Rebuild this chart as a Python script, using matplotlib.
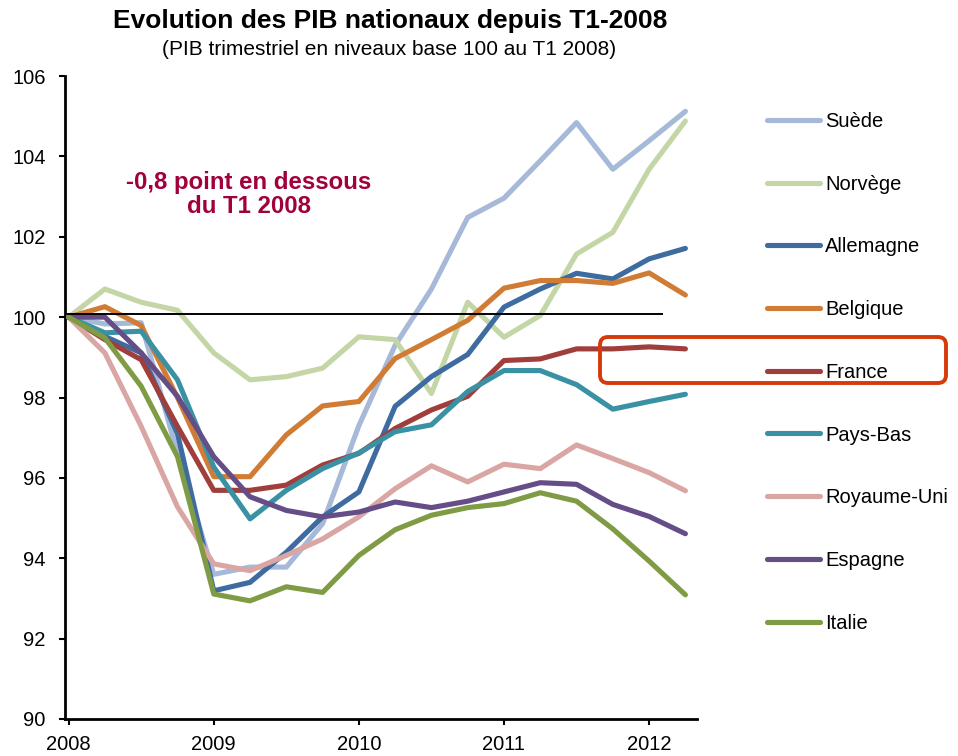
import matplotlib
matplotlib.use("Agg")
import matplotlib.pyplot as plt
from matplotlib.lines import Line2D
from matplotlib.patches import FancyBboxPatch
from matplotlib.transforms import IdentityTransform
import numpy as np

plt.rcParams['font.family'] = ['Liberation Sans', 'DejaVu Sans']

# Quarters T1-2008 .. T2-2012
quarters = [2008 + q / 4 for q in range(18)]

suede = [100, 99.83, 99.86, 96.6, 93.6, 93.78, 93.78, 94.86, 97.3, 99.3, 100.70, 102.48, 102.96, 103.89, 104.84, 103.68, 104.39, 105.12]
norvege = [100, 100.70, 100.37, 100.17, 99.11, 98.44, 98.52, 98.73, 99.51, 99.44, 98.10, 100.37, 99.50, 100.04, 101.57, 102.11, 103.68, 104.88]
allemagne = [100, 99.52, 99.11, 97.1, 93.19, 93.40, 94.15, 95.03, 95.65, 97.78, 98.52, 99.07, 100.25, 100.70, 101.09, 100.95, 101.45, 101.71]
belgique = [100, 100.26, 99.79, 98.0, 96.03, 96.03, 97.07, 97.79, 97.90, 98.97, 99.44, 99.92, 100.72, 100.91, 100.91, 100.84, 101.10, 100.55]
france = [100, 99.44, 98.94, 97.28, 95.69, 95.69, 95.82, 96.32, 96.61, 97.23, 97.69, 98.03, 98.92, 98.96, 99.21, 99.21, 99.26, 99.21]
pays_bas = [100, 99.61, 99.65, 98.44, 96.27, 94.98, 95.69, 96.23, 96.62, 97.15, 97.32, 98.15, 98.67, 98.67, 98.32, 97.71, 97.90, 98.08]
royaume_uni = [100, 99.11, 97.28, 95.28, 93.86, 93.69, 94.07, 94.48, 95.03, 95.73, 96.30, 95.90, 96.34, 96.23, 96.82, 96.48, 96.13, 95.68]
espagne = [100, 100.0, 99.11, 98.03, 96.53, 95.53, 95.19, 95.03, 95.15, 95.40, 95.26, 95.42, 95.65, 95.88, 95.84, 95.34, 95.04, 94.61]
italie = [100, 99.48, 98.28, 96.53, 93.11, 92.94, 93.29, 93.15, 94.07, 94.71, 95.07, 95.26, 95.36, 95.63, 95.42, 94.73, 93.93, 93.09]

series_names = ["Suède", "Norvège", "Allemagne", "Belgique", "France",
                "Pays-Bas", "Royaume-Uni", "Espagne", "Italie"]
series_values = [suede, norvege, allemagne, belgique, france,
                 pays_bas, royaume_uni, espagne, italie]
series_colors = ["#a6b9d8", "#c4d6a6", "#3e6ba0", "#d17c35", "#a03e3c",
                 "#3a91a4", "#d9a6a4", "#654e88", "#7f9c45"]

year_ticks = [2008, 2009, 2010, 2011, 2012]
y_ticks = [90, 92, 94, 96, 98, 100, 102, 104, 106]
base_level = 100.07

title = "Evolution des PIB nationaux depuis T1-2008"
subtitle = "(PIB trimestriel en niveaux base 100 au T1 2008)"
note = "-0,8 point en dessous\ndu T1 2008"

fig = plt.figure(figsize=(9.58, 7.56), dpi=100)
ax = fig.add_axes([65 / 958, 1 - 719 / 756, (697 - 65) / 958, (719 - 76) / 756])

handles = []
for name, vals, col in zip(series_names, series_values, series_colors):
    ax.plot(quarters, vals, color=col, lw=3.7, solid_joinstyle='round',
            solid_capstyle='round', label=name, zorder=3)
    handles.append(Line2D([], [], color=col, lw=3.7, solid_capstyle='round'))

ax.plot([2008 - 0.025, 2012.09], [base_level, base_level], color='black', lw=1.4, zorder=4)

ax.set_xlim(2007.975, 2012.33)
ax.set_ylim(90, 106)
ax.set_xticks(year_ticks)
ax.set_xticklabels([str(y) for y in year_ticks])
ax.set_yticks(y_ticks)
ax.set_yticklabels([str(v) for v in y_ticks])
for s in ['top', 'right']:
    ax.spines[s].set_visible(False)
for s in ['left', 'bottom']:
    ax.spines[s].set_linewidth(2.0)
    ax.spines[s].set_color('black')
ax.tick_params(axis='both', direction='out', length=4, width=1.5, labelsize=14.5, colors='black')
ax.tick_params(axis='y', pad=10)
ax.tick_params(axis='x', pad=7.5)
ax.set_facecolor('white')

fig.text(0.407, 0.9725, title, ha='center', va='center', fontsize=19, fontweight='bold')
fig.text(0.406, 0.935, subtitle, ha='center', va='center', fontsize=15)
fig.text(0.2594, 0.743, note, ha='center', va='center', fontsize=17.3, fontweight='bold',
         color='#a0003c', linespacing=1.05)

leg = fig.legend(handles, series_names, loc='upper left',
                 bbox_to_anchor=(767 / 958, 1 - 112 / 756), frameon=False,
                 fontsize=14.5, handlelength=2.65, handletextpad=0.25,
                 labelspacing=2.17, borderaxespad=0, borderpad=0)

box = FancyBboxPatch((600, 756 - 383), 346, 46,
                     boxstyle="round,pad=0,rounding_size=8",
                     transform=IdentityTransform(), fill=False,
                     edgecolor='#d63a0a', lw=2.8)
fig.patches.append(box)

fig.savefig("out.png", dpi=100)
